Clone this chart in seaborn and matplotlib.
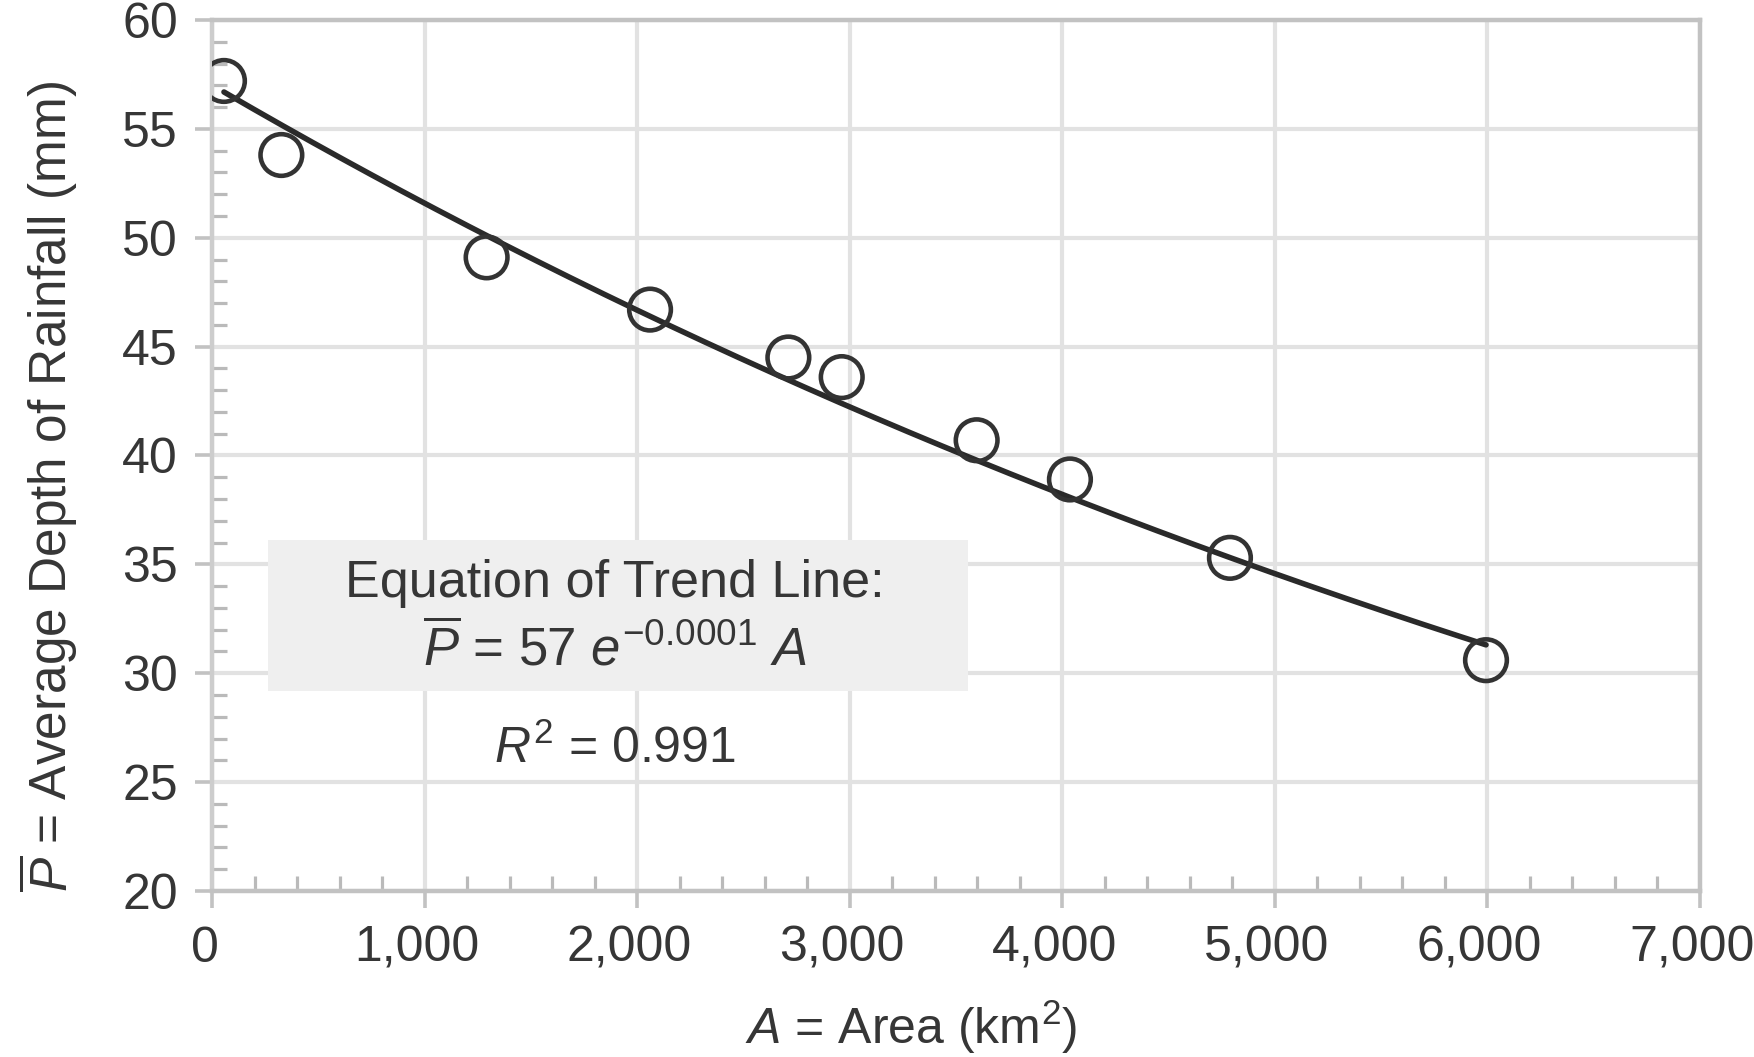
import numpy as np
import pandas as pd
import matplotlib
matplotlib.use("Agg")
import matplotlib.pyplot as plt
from matplotlib.patches import Rectangle
from matplotlib.ticker import MultipleLocator, FuncFormatter
from matplotlib.transforms import ScaledTranslation
import seaborn as sns

# Observed depth-area pairs
area_km2 = [54, 324, 1290, 2059, 2710, 2961, 3596, 4035, 4788, 5993]
depth_mm = [57.2, 53.8, 49.1, 46.7, 44.5, 43.6, 40.7, 38.9, 35.3, 30.6]

# Exponential trend line P = a * exp(b * A)
trend_coef = 57
trend_rate = -0.0001
r_squared = 0.991

x_ticks = [0, 1000, 2000, 3000, 4000, 5000, 6000, 7000]
y_ticks = [20, 25, 30, 35, 40, 45, 50, 55, 60]

sns.set_theme(style="white")
plt.rcParams["font.family"] = ["Liberation Sans", "DejaVu Sans"]
plt.rcParams["mathtext.fontset"] = "custom"
plt.rcParams["mathtext.rm"] = "Liberation Sans"
plt.rcParams["mathtext.it"] = "Liberation Sans:italic"
plt.rcParams["mathtext.bf"] = "Liberation Sans:bold"
plt.rcParams["mathtext.sf"] = "Liberation Sans"

TEXT = "#363636"
AXIS = "#c2c2c2"
GRID = "#e2e2e2"
INK = "#2a2a2a"

obs = pd.DataFrame({"area": area_km2, "depth": depth_mm})
a_fit = np.linspace(min(area_km2), max(area_km2), 300)
trend = pd.DataFrame({"area": a_fit, "depth": trend_coef * np.exp(trend_rate * a_fit)})

fig = plt.figure(figsize=(17.54, 10.57), dpi=100)
ax = fig.add_axes([0.12115, 0.15705, 0.84806, 0.82403])

sns.lineplot(data=trend, x="area", y="depth", ax=ax, color=INK,
             linewidth=4.0, zorder=3)
sns.scatterplot(data=obs, x="area", y="depth", ax=ax, marker="o", s=900,
                facecolor="none", edgecolor="#333333", linewidth=3.3, zorder=4)

ax.set_xlim(x_ticks[0], x_ticks[-1])
ax.set_ylim(y_ticks[0], y_ticks[-1])
ax.set_xticks(x_ticks)
ax.set_yticks(y_ticks)
ax.xaxis.set_minor_locator(MultipleLocator(200))
ax.yaxis.set_minor_locator(MultipleLocator(1))
ax.xaxis.set_major_formatter(FuncFormatter(lambda v, _: f"{v:,.0f}"))
ax.yaxis.set_major_formatter(FuncFormatter(lambda v, _: f"{v:.0f}"))

ax.set_axisbelow(True)
ax.grid(True, which="major", color=GRID, linewidth=3.0)
for side in ["left", "right", "top", "bottom"]:
    ax.spines[side].set_visible(True)
    ax.spines[side].set_color(AXIS)
    ax.spines[side].set_linewidth(3.2)
ax.spines["left"].set_color("#cdcdcd")

ax.tick_params(axis="both", which="major", direction="out", length=12,
               width=2.6, color=AXIS, labelsize=36, labelcolor=TEXT,
               bottom=True, left=True, top=False, right=False)
ax.tick_params(axis="x", which="major", pad=13)
ax.tick_params(axis="y", which="major", pad=13)
ax.tick_params(axis="both", which="minor", direction="in", length=11,
               width=2.3, color="#bababa",
               bottom=True, left=True, top=False, right=False)

# Nudge the area tick labels slightly left of their ticks
shift = ScaledTranslation(-0.08, 0, fig.dpi_scale_trans)
for lbl in ax.get_xticklabels():
    lbl.set_transform(lbl.get_transform() + shift)

ax.set_xlabel(r"$A$ = Area (km$^2$)", fontsize=36, color=TEXT)
ax.xaxis.set_label_coords(0.470, -0.176)
ax.xaxis.label.set_va("baseline")
ax.set_ylabel(r"$\overline{P}$ = Average Depth of Rainfall (mm)",
              fontsize=37, color=TEXT)
ax.yaxis.set_label_coords(-0.089, 0.464)

# Shaded box holding the trend-line equation
ax.add_patch(Rectangle((0.0376, 0.2296), 0.470, 0.1734, transform=ax.transAxes,
                       facecolor="#efefef", edgecolor="none", zorder=2))
ax.text(0.2706, 0.3536, "Equation of Trend Line:", transform=ax.transAxes,
        ha="center", va="center", fontsize=37.5, color=TEXT, zorder=5)
ax.text(0.2706, 0.2778,
        rf"$\overline{{P}}$ = {trend_coef} $e^{{{trend_rate:.4f}}}$ $A$",
        transform=ax.transAxes, ha="center", va="center", fontsize=38,
        color=TEXT, zorder=5)
ax.text(0.2706, 0.163, rf"$R^2$ = {r_squared:.3f}", transform=ax.transAxes,
        ha="center", va="center", fontsize=36, color=TEXT, zorder=5)

fig.savefig("out.png", dpi=100, facecolor="white")
